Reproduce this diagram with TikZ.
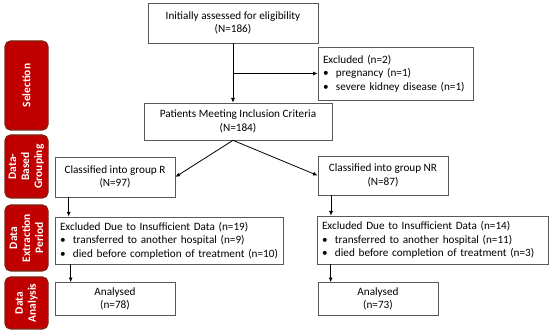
\documentclass[tikz,border=0pt]{standalone}
\usepackage{fontspec}
\setmainfont{Carlito}
\usepackage{xcolor}
\usetikzlibrary{positioning,arrows.meta}

\definecolor{stagered}{RGB}{192,0,0}
\definecolor{stageedge}{RGB}{120,40,20}
\newcommand{\itm}{\makebox[9.75pt][l]{\textbullet}}

\begin{document}
\begin{tikzpicture}[
  x=0.75pt, y=-0.75pt,
  font=\fontsize{8.4}{10.2}\selectfont,
  box/.style={draw=black!65, line width=0.5pt, align=center, inner sep=3.75pt, fill=white},
  list/.style={box, align=left},
  stage/.style={draw=stageedge, line width=0.8pt, fill=stagered, rounded corners=4pt, rotate=90,
    text=white, font=\fontsize{8.6}{9.75}\selectfont\bfseries, align=center, inner sep=1pt, minimum height=32.25pt},
  flow/.style={-{Latex[length=3.5pt,width=3pt]}, line width=0.6pt}]

\useasboundingbox (0,0) rectangle (550,334);

% stages on the left
\node[stage, minimum width=66.75pt] (sel) at (26.5,85.5) {Selection};
\node[stage, minimum width=47.25pt] (grp) at (26.5,166.5) {Data-\\Based\\Grouping};
\node[stage, minimum width=49.5pt] (ext) at (26.5,238) {Data\\Extraction\\Period};
\node[stage, minimum width=39pt] (ana) at (26.5,303) {Data\\Analysis};

% flow boxes
\node[box, minimum width=127.5pt, minimum height=30pt] (init) at (233,23) {Initially assessed for eligibility\\(N=186)};
\node[list, text width=108.75pt, minimum height=39.75pt] (excl) at (395.5,73.5) {Excluded (n=2)\\
  \itm pregnancy (n=1)\\
  \itm severe kidney disease (n=1)};
\node[box, minimum width=141pt, minimum height=27.75pt] (incl) at (238,121.5) {Patients Meeting Inclusion Criteria\\(N=184)};
\node[box, minimum width=90pt, minimum height=30pt] (grpR) at (115,177) {Classified into group R\\(N=97)};
\node[box, minimum width=97.5pt, minimum height=29.25pt] (grpNR) at (383,175.5) {Classified into group NR\\(N=87)};
\node[list, text width=163.5pt, minimum height=35.25pt] (exclR) at (169,240.5) {Excluded Due to Insufficient Data (n=19)\\
  \itm transferred to another hospital (n=9)\\
  \itm died before completion of treatment (n=10)};
\node[list, text width=165.75pt, minimum height=36pt] (exclNR) at (432.5,240) {Excluded Due to Insufficient Data (n=14)\\
  \itm transferred to another hospital (n=11)\\
  \itm died before completion of treatment (n=3)};
\node[box, minimum width=90pt, minimum height=21pt] (anR) at (115,299) {Analysed\\(n=78)};
\node[box, minimum width=90pt, minimum height=21pt] (anNR) at (378,299) {Analysed\\(n=73)};

\coordinate (split) at (init.south |- incl.south);

\draw[flow] (init.south) -- (init.south |- incl.north);
\draw[flow] (init.south |- excl.west) -- (excl.west);
\draw[flow] (split) -- (grpR.east);
\draw[flow] (split) -- (grpNR.west);
\draw[flow] ([xshift=10.5pt]grpR.south west) -- ([xshift=10.5pt]grpR.south west |- exclR.north);
\draw[flow] ([xshift=12pt]exclR.south west) -- ([xshift=12pt]exclR.south west |- anR.north);
\draw[flow] ([xshift=10pt]grpNR.south west) -- ([xshift=10pt]grpNR.south west |- exclNR.north);
\draw[flow] ([xshift=10.5pt]exclNR.south west) -- ([xshift=10.5pt]exclNR.south west |- anNR.north);
\end{tikzpicture}
\end{document}
